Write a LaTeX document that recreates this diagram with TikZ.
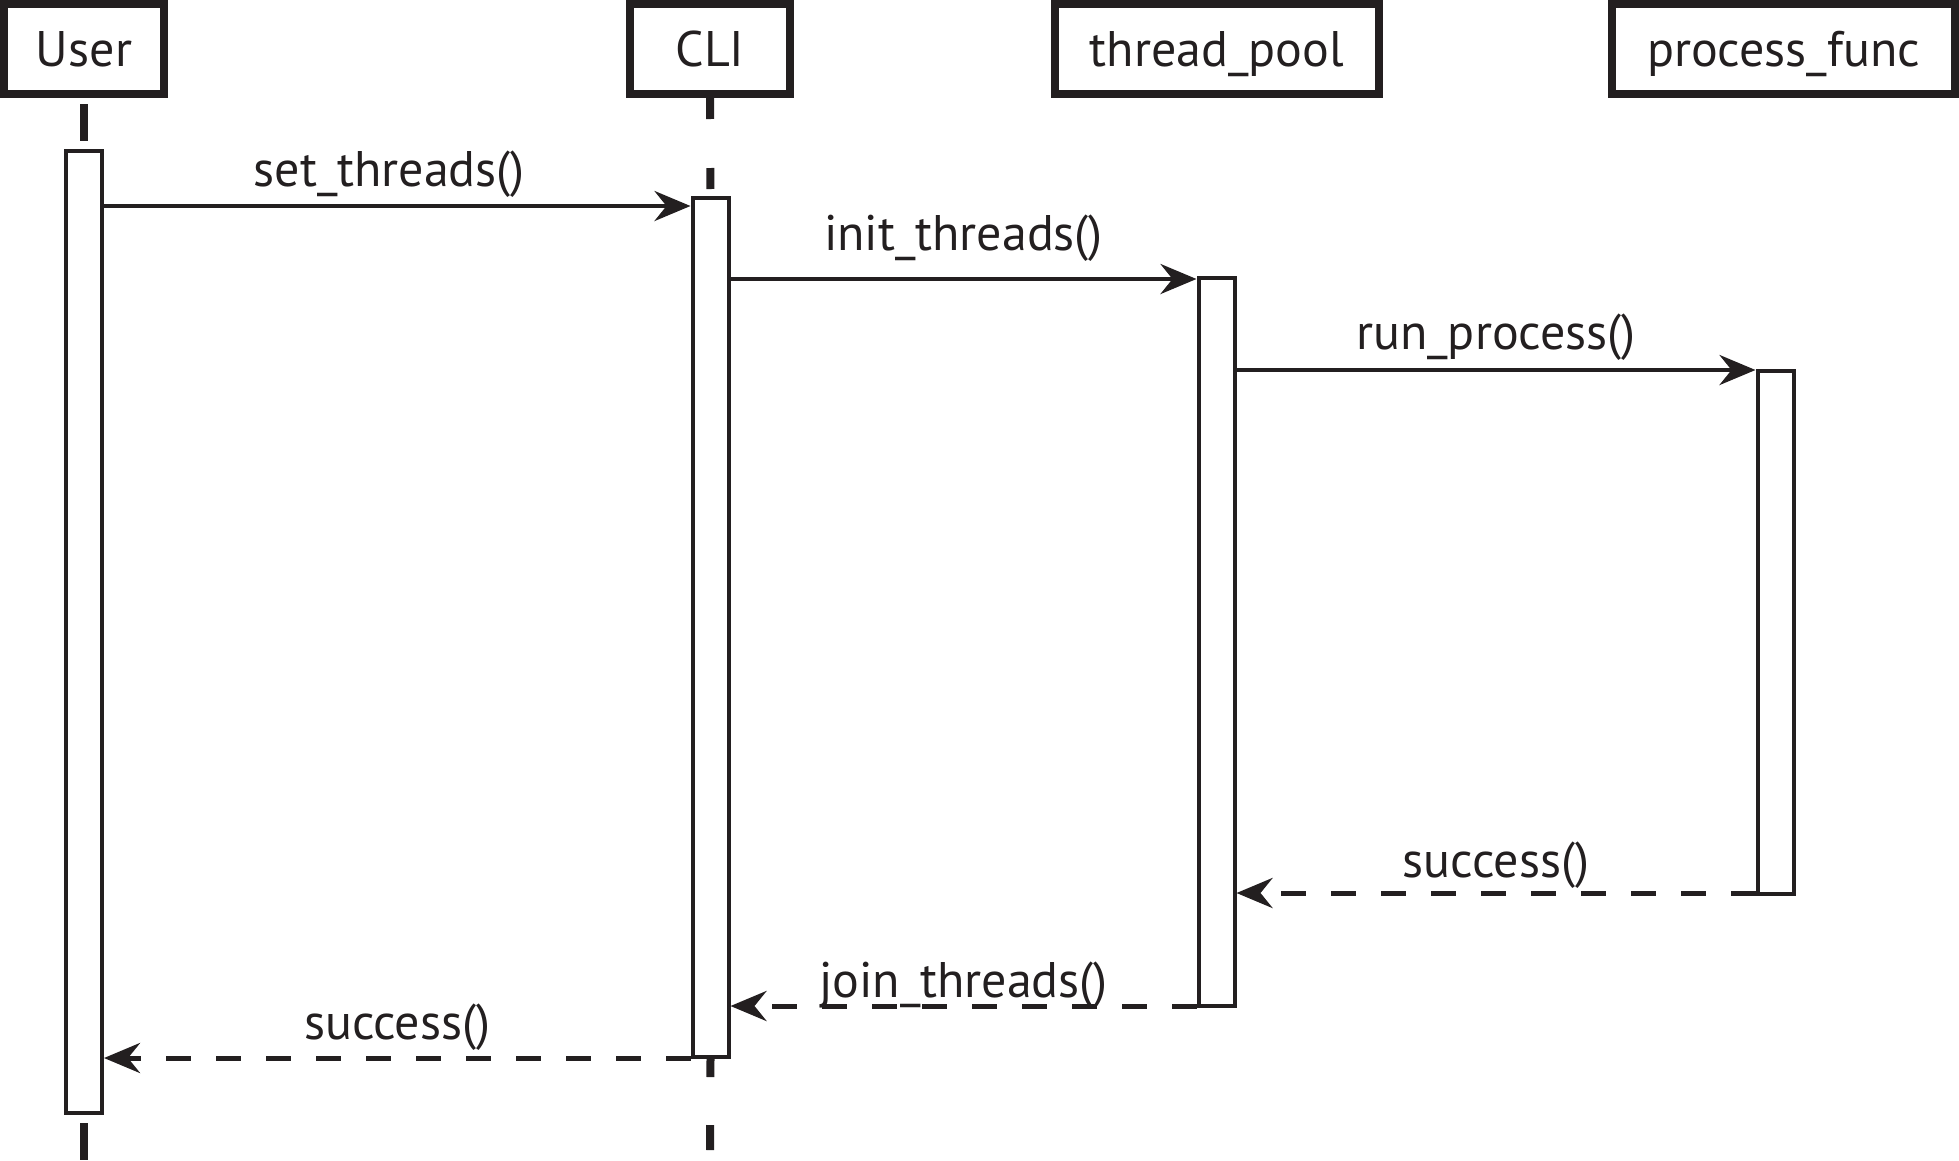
\documentclass[tikz,border=0pt]{standalone}
\usepackage{fontspec}
\setmainfont{PT Sans}
\usetikzlibrary{positioning}
\usetikzlibrary{arrows.meta}
\definecolor{ink}{HTML}{231F20}
\tikzset{
  head/.style={draw=ink, line width=8pt, fill=white, minimum width=160pt,
    minimum height=90pt, inner sep=0pt, text height=35pt, text depth=0pt,
    text=ink, font=\fontsize{50}{60}\selectfont},
  bar/.style={draw=ink, line width=4pt, fill=white, minimum width=36pt, inner sep=0pt},
  lifeline/.style={draw=ink, line width=8pt},
  call/.style={draw=ink, line width=4.5pt,
    -{Stealth[length=36pt, width=30pt, inset=12pt]}},
  reply/.style={call, line width=5pt, dash pattern=on 25pt off 25pt},
  msg/.style={text=ink, inner sep=0pt, text depth=0pt,
    font=\fontsize{50}{60}\selectfont},
}

\begin{document}
\begin{tikzpicture}[x=1pt, y=-1pt]
   \useasboundingbox (0,0) rectangle (1959,1160);

   % lifeline heads
   \node[head]                      (user) at (84,49)     {User};
   \node[head]                      (cli)  at (710,49)    {CLI};
   \node[head, minimum width=324pt] (pool) at (1217,49)   {thread\_pool};
   \node[head, minimum width=343pt] (proc) at (1783.5,49) {process\_func};

   % activation bars
   \node[bar, minimum height=962pt] (userbar) at (84,632)      {};
   \node[bar, minimum height=859pt] (clibar)  at (710.5,627.5) {};
   \node[bar, minimum height=728pt] (poolbar) at (1216.5,642)  {};
   \node[bar, minimum height=523pt] (procbar) at (1775.5,632.5) {};

   % lifelines
   \coordinate (userend) at (84,1160);
   \coordinate (cliend)  at (710,1160);
   \draw[lifeline, shorten <=6pt, shorten >=8pt] (user.south) -- (userbar.north);
   \draw[lifeline, shorten <=8pt] (userbar.south) -- (userend);
   \draw[lifeline, dash pattern=on 21pt off 49pt] (cli.south) -- (clibar.north);
   \draw[lifeline, dash pattern=on 18pt off 48pt on 25pt off 20pt]
      (clibar.south) -- (cliend);

   % calls
   \draw[call] (userbar.east |- 0,206) -- (clibar.west |- 0,206)
      node[msg, midway, xshift=-8pt, above=17pt] (m1) {set\_threads()};
   \draw[call] (clibar.east |- 0,279) -- (poolbar.west |- 0,279)
      node[msg, midway, above=26pt] (m2) {init\_threads()};
   \draw[call] (poolbar.east |- 0,370) -- (procbar.west |- 0,370)
      node[msg, midway, above=18pt] (m3) {run\_process()};

   % replies
   \draw[reply] (procbar.west |- 0,893) -- (poolbar.east |- 0,893)
      node[msg, midway, above=13pt] (m4) {success()};
   \draw[reply] (poolbar.west |- 0,1006) -- (clibar.east |- 0,1006)
      node[msg, midway, above=6pt] (m5) {join\_threads()};
   \draw[reply] (clibar.west |- 0,1058) -- (userbar.east |- 0,1058)
      node[msg, midway, above=16pt] (m6) {success()};
\end{tikzpicture}
\end{document}
